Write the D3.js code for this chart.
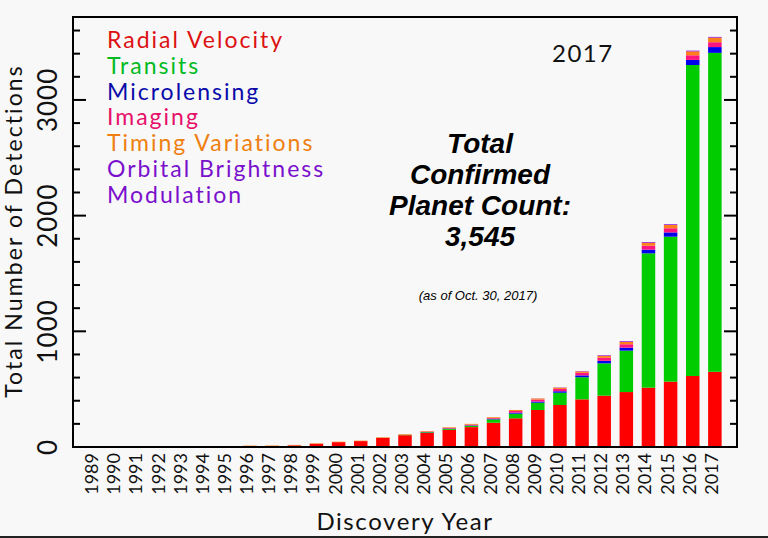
<!DOCTYPE html>
<html lang="en">
<head>
<meta charset="UTF-8">
<title>Total Confirmed Planet Count 2017</title>
<script src="https://d3js.org/d3.v7.min.js"></script>
<style>
  body { margin: 0; background: #f8f8f8; }
  svg { display: block; }
  .hershey { font-family: Lato, "Liberation Sans", sans-serif; }
  .bold { font-family: "Liberation Sans", Arial, sans-serif; font-weight: bold; font-style: italic; }
</style>
</head>
<body>
<div id="chart"></div>
<script>
// cumulative detections by discovery year
const years = [1989, 1990, 1991, 1992, 1993, 1994, 1995, 1996, 1997, 1998, 1999, 2000, 2001, 2002,
               2003, 2004, 2005, 2006, 2007, 2008, 2009, 2010, 2011, 2012, 2013, 2014, 2015, 2016, 2017];
const radialVelocity = [1, 1, 1, 1, 1, 1, 2, 8, 9, 14, 28, 42, 51, 79,
                        102, 122, 148, 172, 210, 248, 320, 363, 412, 444, 475, 513, 565, 614, 650];
const transits = [0, 0, 0, 0, 0, 0, 0, 0, 0, 0, 0, 0, 0, 1,
                  3, 6, 9, 11, 29, 40, 63, 106, 191, 279, 358, 1161, 1253, 2688, 2757];
const microlensing = [0, 0, 0, 0, 0, 0, 0, 0, 0, 0, 0, 0, 0, 0,
                      0, 2, 3, 4, 5, 9, 10, 13, 16, 22, 26, 32, 37, 44, 50];
const imaging = [0, 0, 0, 0, 0, 0, 0, 0, 0, 0, 0, 0, 0, 0,
                 1, 3, 4, 6, 6, 14, 17, 20, 22, 26, 29, 34, 36, 40, 42];
const timing = [0, 0, 0, 2, 3, 4, 4, 4, 4, 4, 4, 4, 4, 4,
                5, 5, 6, 7, 7, 9, 9, 11, 12, 17, 20, 26, 28, 34, 40];
const orbitalBrightness = [0, 0, 0, 0, 0, 0, 0, 0, 0, 0, 0, 0, 0, 0,
                           0, 0, 0, 0, 0, 0, 1, 2, 3, 5, 6, 6, 6, 6, 6];

const methods = ["Radial Velocity", "Transits", "Microlensing", "Imaging", "Timing Variations", "Orbital Brightness"];
const barColors = ["#ff0000", "#00cc00", "#0000ee", "#ff1480", "#ff7f1a", "#8800dd"];
const legendLabels = ["Radial Velocity", "Transits", "Microlensing", "Imaging", "Timing Variations", "Orbital Brightness", "Modulation"];
const legendColors = ["#dd1111", "#00bb22", "#0a0aaa", "#e6106a", "#ee7f10", "#7a10cc", "#7a10cc"];
const yTickLabels = [0, 1000, 2000, 3000];

const width = 768, height = 538;
const plot = { left: 73, right: 737, top: 17, bottom: 447 };

const rows = years.map((yr, i) => ({
  year: yr,
  "Radial Velocity": radialVelocity[i],
  "Transits": transits[i],
  "Microlensing": microlensing[i],
  "Imaging": imaging[i],
  "Timing Variations": timing[i],
  "Orbital Brightness": orbitalBrightness[i]
}));

const svg = d3.select("#chart").append("svg")
  .attr("width", width)
  .attr("height", height);

const x = d3.scaleLinear().domain([1988, 2018]).range([plot.left, plot.right]);
const y = d3.scaleLinear().domain([0, 3717]).range([plot.bottom, plot.top]);
const barW = (x(1989) - x(1988)) * 0.61;

const stacked = d3.stack().keys(methods)(rows);

svg.append("g").selectAll("g")
  .data(stacked)
  .join("g")
  .attr("fill", (d, i) => barColors[i])
  .selectAll("rect")
  .data(d => d)
  .join("rect")
  .attr("x", d => x(d.data.year) - barW / 2)
  .attr("width", barW)
  .attr("y", d => y(d[1]))
  .attr("height", d => Math.max(0, y(d[0]) - y(d[1])));

// frame
svg.append("rect")
  .attr("x", plot.left).attr("y", plot.top)
  .attr("width", plot.right - plot.left).attr("height", plot.bottom - plot.top)
  .attr("fill", "none").attr("stroke", "#000").attr("stroke-width", 2);

// y ticks, both sides, inward
const yTicks = d3.range(0, 3601, 200);
const tickLen = v => (v % 1000 === 0 ? 13 : 7);
svg.append("g").selectAll("line")
  .data(yTicks)
  .join("line")
  .attr("x1", plot.left).attr("x2", v => plot.left + tickLen(v))
  .attr("y1", v => y(v)).attr("y2", v => y(v))
  .attr("stroke", "#000").attr("stroke-width", 2);
svg.append("g").selectAll("line")
  .data(yTicks)
  .join("line")
  .attr("x1", plot.right).attr("x2", v => plot.right - tickLen(v))
  .attr("y1", v => y(v)).attr("y2", v => y(v))
  .attr("stroke", "#000").attr("stroke-width", 2);

// y tick labels (rotated)
svg.append("g").selectAll("text")
  .data(yTickLabels)
  .join("text")
  .attr("class", "hershey")
  .attr("transform", v => `translate(57,${y(v)}) rotate(-90)`)
  .attr("text-anchor", "middle")
  .attr("font-size", 26)
  .attr("letter-spacing", 1)
  .attr("fill", "#111")
  .text(v => v);

// x tick labels (rotated)
svg.append("g").selectAll("text")
  .data(years)
  .join("text")
  .attr("class", "hershey")
  .attr("transform", yr => `translate(${x(yr) + 3},453) rotate(-90)`)
  .attr("text-anchor", "end")
  .attr("font-size", 18)
  .attr("fill", "#111")
  .text(yr => yr);

// axis titles
svg.append("text")
  .attr("class", "hershey")
  .attr("transform", "translate(22,231) rotate(-90)")
  .attr("text-anchor", "middle")
  .attr("font-size", 23)
  .attr("letter-spacing", 2.1)
  .attr("fill", "#111")
  .text("Total Number of Detections");

svg.append("text")
  .attr("class", "hershey")
  .attr("x", 405).attr("y", 530)
  .attr("text-anchor", "middle")
  .attr("font-size", 24)
  .attr("letter-spacing", 1.6)
  .attr("fill", "#111")
  .text("Discovery Year");

// legend
svg.append("g").selectAll("text")
  .data(legendLabels)
  .join("text")
  .attr("class", "hershey")
  .attr("x", 107)
  .attr("y", (d, i) => 48 + i * 25.8)
  .attr("font-size", 23)
  .attr("letter-spacing", 2)
  .attr("fill", (d, i) => legendColors[i])
  .text(d => d);

svg.append("text")
  .attr("class", "hershey")
  .attr("x", 552).attr("y", 62)
  .attr("font-size", 24)
  .attr("letter-spacing", 1.5)
  .attr("fill", "#111")
  .text("2017");

// headline
const headline = ["Total", "Confirmed", "Planet Count:", "3,545"];
svg.append("g").selectAll("text")
  .data(headline)
  .join("text")
  .attr("class", "bold")
  .attr("x", 480)
  .attr("y", (d, i) => 153 + i * 31)
  .attr("text-anchor", "middle")
  .attr("font-size", 28)
  .attr("fill", "#000")
  .text(d => d);

svg.append("text")
  .attr("x", 478).attr("y", 300)
  .attr("text-anchor", "middle")
  .attr("font-family", "'Liberation Sans', Arial, sans-serif")
  .attr("font-style", "italic")
  .attr("font-size", 13)
  .attr("fill", "#000")
  .text("(as of Oct. 30, 2017)");

// dark edge along the bottom of the picture
svg.append("line")
  .attr("x1", 0).attr("x2", width)
  .attr("y1", 537).attr("y2", 537)
  .attr("stroke", "#222").attr("stroke-width", 2);
</script>
</body>
</html>
